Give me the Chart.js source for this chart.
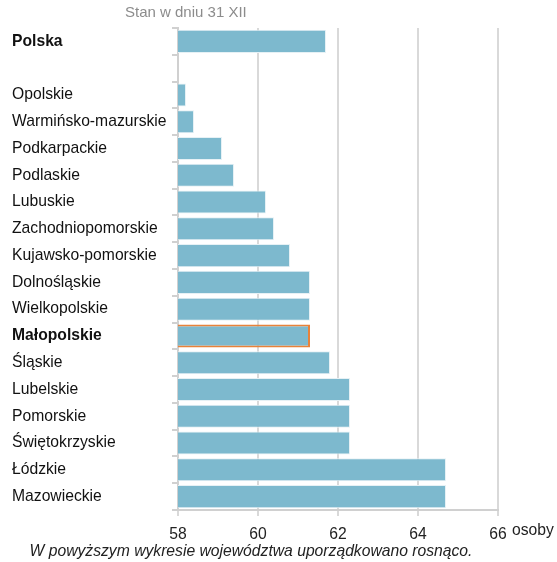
<!DOCTYPE html>
<html>
<head>
<meta charset="utf-8">
<script src="https://cdn.jsdelivr.net/npm/chart.js@4"></script>
<style>
  html, body { margin: 0; padding: 0; background: #fff; }
  #wrap { position: relative; width: 557px; height: 562px; }
</style>
</head>
<body>
<div id="wrap"><canvas id="barChart" width="557" height="562"></canvas></div>
<script>
// dane
const regions = [
  "Polska", "", "Opolskie", "Warmińsko-mazurskie", "Podkarpackie", "Podlaskie",
  "Lubuskie", "Zachodniopomorskie", "Kujawsko-pomorskie", "Dolnośląskie",
  "Wielkopolskie", "Małopolskie", "Śląskie", "Lubelskie", "Pomorskie",
  "Świętokrzyskie", "Łódzkie", "Mazowieckie"
];
const values = [
  61.7, null, 58.2, 58.4, 59.1, 59.4, 60.2, 60.4, 60.8, 61.3,
  61.3, 61.3, 61.8, 62.3, 62.3, 62.3, 64.7, 64.7
];
const boldLabels = ["Polska", "Małopolskie"];
const highlighted = "Małopolskie";
const xTicks = [58, 60, 62, 64, 66];

const barColor = "#7db9ce";
const fontFamily = "'Liberation Sans', Arial, sans-serif";
const fontSize = 15.7;

// dodatkowe napisy
const extraText = {
  id: "extraText",
  afterDraw(chart) {
    const c = chart.ctx;
    const area = chart.chartArea;
    c.save();
    c.textBaseline = "middle";
    c.fillStyle = "#8c8c8c";
    c.font = "15px " + fontFamily;
    c.textAlign = "left";
    c.fillText("Stan w dniu 31 XII", 125, 13);

    c.fillStyle = "#222";
    c.font = fontSize + "px " + fontFamily;
    c.fillText("osoby", area.right + 14, 531);

    c.font = "italic " + fontSize + "px " + fontFamily;
    c.textAlign = "center";
    c.fillText("W powyższym wykresie województwa uporządkowano rosnąco.", 251, 552);
    c.restore();
  }
};

const ctx = document.getElementById("barChart");
new Chart(ctx, {
  type: "bar",
  data: {
    labels: regions,
    datasets: [
      {
        data: values,
        backgroundColor: barColor,
        borderColor: regions.map((r) => (r === highlighted ? "#e8823a" : "#e6f1f5")),
        borderWidth: regions.map((r) => (r === highlighted ? 2 : 1)),
        borderSkipped: false,
        categoryPercentage: 1,
        barPercentage: 0.86,
      },
    ],
  },
  options: {
    indexAxis: "y",
    responsive: false,
    animation: false,
    layout: { padding: { top: 28, left: 12, right: 59, bottom: 22 } },
    plugins: {
      legend: { display: false },
      tooltip: { enabled: false },
    },
    scales: {
      x: {
        min: 58,
        max: 66,
        afterBuildTicks: (axis) => {
          axis.ticks = xTicks.map((v) => ({ value: v }));
        },
        afterFit: (axis) => {
          axis.height = 30;
        },
        grid: {
          color: "#d9d9d9",
          lineWidth: 2,
          tickLength: 6,
        },
        border: { color: "#d0d0d0", width: 2 },
        ticks: {
          color: "#222",
          padding: 9,
          font: { family: fontFamily, size: fontSize },
        },
      },
      y: {
        afterFit: (axis) => {
          axis.width = 166;
        },
        grid: {
          offset: true,
          drawOnChartArea: false,
          color: "#d0d0d0",
          lineWidth: 2,
          tickLength: 6,
        },
        border: { color: "#d0d0d0", width: 2 },
        ticks: {
          crossAlign: "far",
          color: "#111",
          autoSkip: false,
          font: (c) => ({
            family: fontFamily,
            size: fontSize,
            weight: boldLabels.includes(regions[c.index]) ? "bold" : "normal",
          }),
        },
      },
    },
  },
  plugins: [extraText],
});
</script>
</body>
</html>
